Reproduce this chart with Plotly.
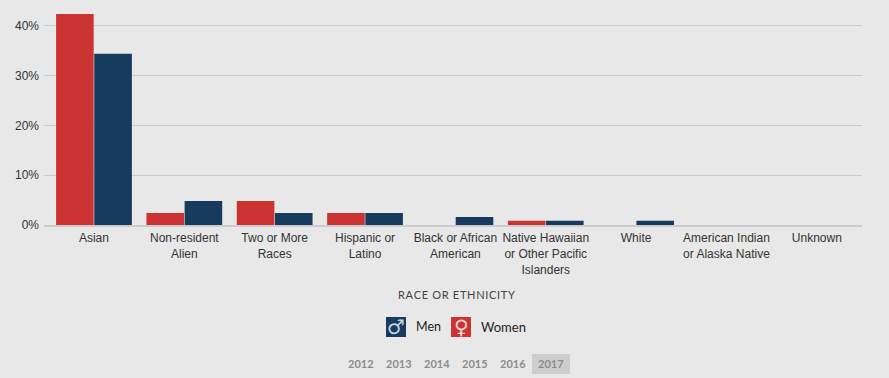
import plotly.graph_objects as go

categories = ["Asian", "Non-resident<br>Alien", "Two or More<br>Races", "Hispanic or<br>Latino",
              "Black or African<br>American", "Native Hawaiian<br>or Other Pacific<br>Islanders",
              "White", "American Indian<br>or Alaska Native", "Unknown"]
women = [42.4, 2.4, 4.8, 2.4, 0, 0.85, 0, 0, 0]
men = [34.4, 4.8, 2.4, 2.4, 1.6, 0.85, 0.85, 0, 0]
y_ticks = [0, 10, 20, 30, 40]
years = ["2012", "2013", "2014", "2015", "2016", "2017"]
year_x = [361, 399, 437, 475, 513, 551]

W, H = 889, 378
L, R, T, B = 44, 862, 14, 225
BG = "#e8e8e8"
RED, BLUE = "#cc3333", "#173b5f"

fig = go.Figure()
fig.add_bar(x=list(range(9)), y=women, marker=dict(color=RED, line=dict(width=0)),
            hovertemplate="%{y}%<extra>Women</extra>")
fig.add_bar(x=list(range(9)), y=men, marker=dict(color=BLUE, line=dict(width=0)),
            hovertemplate="%{y}%<extra>Men</extra>")

def px(x):
    return (x - L) / (R - L)
def py(y):
    return (B - y) / (B - T)

shapes = [
    dict(type="rect", xref="paper", yref="paper", x0=px(386), x1=px(406), y0=py(337), y1=py(317),
         fillcolor=BLUE, line_width=0),
    dict(type="rect", xref="paper", yref="paper", x0=px(451), x1=px(471), y0=py(337), y1=py(317),
         fillcolor=RED, line_width=0),
    dict(type="rect", xref="paper", yref="paper", x0=px(532), x1=px(570), y0=py(374), y1=py(354),
         fillcolor="#cdcdcd", line_width=0),
]
LEG = "Lato, 'Open Sans', sans-serif"
def note(x, y, text, size, color, family=LEG, **kw):
    return dict(xref="paper", yref="paper", x=px(x), y=py(y), text=text, showarrow=False,
                font=dict(size=size, color=color, family=family), xanchor="center", yanchor="middle", **kw)

title = "\u200a".join("RACE OR ETHNICITY")
anns = [
    note(456.5, 294, title, 11, "#444444"),
    note(396, 327, "♂", 20, "#c4d2dc", "DejaVu Sans"),
    note(461, 327, "♀", 20, "#f3d6d6", "DejaVu Sans"),
    note(428, 326.5, "Men", 12.5, "#222222"),
    note(503.5, 326.5, "Women", 13, "#222222"),
]
for yr, x in zip(years, year_x):
    anns.append(note(x, 363, f"<b>{yr}</b>", 11, "#8c8c8c"))

fig.update_layout(
    width=W, height=H, autosize=False,
    margin=dict(l=L, r=W - R, t=T, b=H - B, pad=0),
    paper_bgcolor=BG, plot_bgcolor=BG,
    barmode="group", bargap=0.155, bargroupgap=0.015,
    showlegend=False, shapes=shapes, annotations=anns,
    xaxis=dict(range=[-0.553, 8.5], tickmode="array", tickvals=list(range(9)), ticktext=categories,
               showgrid=False, zeroline=False, ticks="", ticklen=0, showline=True, linecolor="#cccccc", linewidth=2,
               tickangle=0, ticklabelstandoff=1,
               tickfont=dict(family="Liberation Sans, Arial, sans-serif", size=12, color="#333333")),
    yaxis=dict(range=[0, 42.4], tickmode="array", tickvals=y_ticks, ticktext=[f"{v}%" for v in y_ticks],
               showgrid=True, gridcolor="#cccccc", gridwidth=1, zeroline=False, ticks="", ticklen=0,
               ticklabelstandoff=4,
               tickfont=dict(family="Liberation Sans, Arial, sans-serif", size=12, color="#333333")),
)
fig.write_html("out.html", config={"displayModeBar": False},
               post_script="document.body.style.margin='0';document.body.style.background='#e8e8e8';")
